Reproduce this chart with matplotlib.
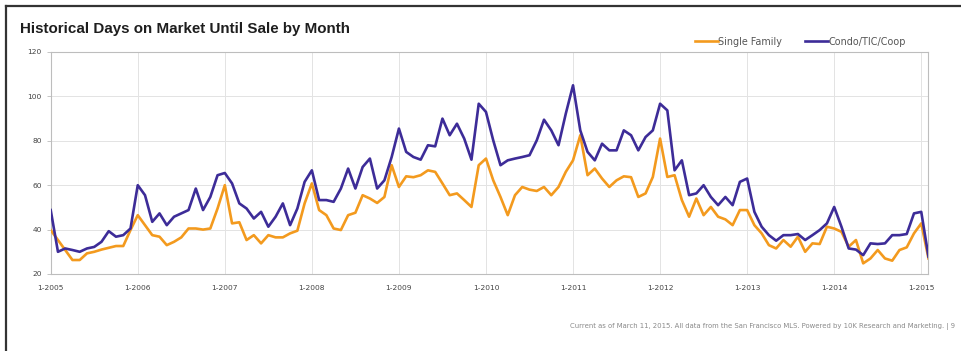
import matplotlib
matplotlib.use("Agg")
import matplotlib.pyplot as plt
from matplotlib.lines import Line2D

title = "Historical Days on Market Until Sale by Month"
footer = ("Current as of March 11, 2015. All data from the San Francisco MLS. "
          "Powered by 10K Research and Marketing. | 9")
series_names = ["Single Family", "Condo/TIC/Coop"]
x_tick_labels = ["1-2005", "1-2006", "1-2007", "1-2008", "1-2009", "1-2010",
                 "1-2011", "1-2012", "1-2013", "1-2014", "1-2015"]
y_ticks = [20, 40, 60, 80, 100, 120]

# Monthly values Jan 2005 - Feb 2015
single_family = [
    39.8, 35.3, 30.8, 26.3, 26.3, 29.3, 30, 31, 31.8, 32.6, 32.6, 39.8,
    46.5, 42, 37.5, 36.8, 33, 34.5, 36.5, 40.5, 40.5, 40, 40.5, 49.5,
    60, 42.8, 43.3, 35.3, 37.5, 33.8, 37.5, 36.5, 36.5, 38.3, 39.5, 51.8,
    60.8, 48.8, 46.5, 40.5, 39.8, 46.5, 47.6, 55.5, 54, 52, 54.7, 69,
    59.2, 64, 63.6, 64.5, 66.7, 66, 60.8, 55.5, 56.3, 53.3, 50.2, 69,
    72, 62.2, 54.7, 46.5, 55.5, 59.2, 58, 57.4, 59.2, 55.5, 59.2, 66,
    71.2, 82.5, 64.5, 67.5, 63, 59.2, 62.2, 64, 63.6, 54.7, 56.3, 63.7,
    81, 63.7, 64.5, 53.3, 45.8, 54, 46.5, 50.2, 45.8, 44.6, 42, 48.8,
    48.8, 42, 38.3, 33, 31.5, 35.3, 32.3, 36.8, 30, 33.8, 33.5, 41.3,
    40.5, 39, 32.3, 35.3, 24.8, 27, 30.8, 27, 26, 30.8, 32, 38.3,
    42.8, 27,
]
condo = [
    48.8, 30, 31.5, 30.8, 30, 31.5, 32.2, 34.5, 39.3, 36.8, 37.5, 40.5,
    60, 55.5, 43.5, 47.3, 42, 45.8, 47.3, 48.8, 58.5, 48.8, 54.7, 64.5,
    65.5, 60.8, 51.8, 49.5, 45, 48, 41.3, 45.8, 51.8, 42, 49.5, 61.5,
    66.7, 53.3, 53.3, 52.5, 58.5, 67.5, 58.5, 68.2, 72, 58.5, 62.2, 72.7,
    85.5, 75, 72.7, 71.5, 78, 77.5, 90, 82.5, 87.7, 81, 71.5, 96.7,
    93, 80.2, 69, 71.2, 72, 72.7, 73.5, 80.2, 89.5, 84.7, 78, 92.2,
    105, 84.7, 75, 71.2, 78.7, 75.7, 75.7, 84.7, 82.5, 75.7, 81.7, 84.7,
    96.7, 93.7, 66.7, 71.2, 55.5, 56.3, 60, 54.7, 51, 54.7, 51, 61.5,
    63, 48, 41.3, 37.5, 35, 37.5, 37.5, 38, 35.3, 37.5, 39.8, 42.8,
    50.2, 41.3, 31.5, 31, 28.5, 33.8, 33.5, 33.8, 37.5, 37.5, 38, 47.3,
    48, 27.8,
]
months = list(range(len(condo)))
x_ticks = list(range(0, 121, 12))

ORANGE = "#F39A1E"
BLUE = "#3D2C98"

fig = plt.figure(figsize=(9.62, 3.51), dpi=100)
fig.patch.set_facecolor("white")
ax = fig.add_axes([50.7 / 962, 1 - 274 / 351, (928.5 - 50.7) / 962, (274 - 52) / 351])

ax.plot(months, single_family, color=ORANGE, lw=1.9, label=series_names[0], zorder=3)
ax.plot(months, condo, color=BLUE, lw=1.9, label=series_names[1], zorder=4)

ax.set_xlim(0, months[-1])
ax.set_ylim(20, 120)
ax.set_xticks(x_ticks)
ax.set_xticklabels(x_tick_labels)
ax.set_yticks(y_ticks)
ax.tick_params(axis="both", labelsize=5.4, colors="#bbbbbb", labelcolor="#444444",
               length=3, width=0.6)
ax.tick_params(axis="x", length=0, pad=8)
ax.grid(True, color="#e3e3e3", lw=0.7, zorder=0)
for s in ax.spines.values():
    s.set_color("#bdbdbd")
    s.set_linewidth(0.8)

ax.legend(loc="lower right", bbox_to_anchor=(1.0 - 17 / 878, 1.0), ncol=2, frameon=False,
          fontsize=6.9, handlelength=2.4, columnspacing=2.4, handletextpad=0.05,
          borderaxespad=0.15, labelcolor="#555555")

fig.text(20 / 962, 1 - 29 / 351, title, fontsize=10.9, fontweight="bold",
         family="Liberation Sans", color="#1e1e1e", va="center", ha="left")
fig.text(955 / 962, 1 - 327 / 351, footer, fontsize=4.95, color="#8a8a8a",
         va="center", ha="right")

# page border (left and top)
fig.add_artist(Line2D([6 / 962, 6 / 962], [0, 1 - 6 / 351], transform=fig.transFigure,
                      color="#333333", lw=1.6))
fig.add_artist(Line2D([6 / 962, 1], [1 - 6 / 351, 1 - 6 / 351], transform=fig.transFigure,
                      color="#333333", lw=1.6))

fig.savefig("out.png", dpi=100)
